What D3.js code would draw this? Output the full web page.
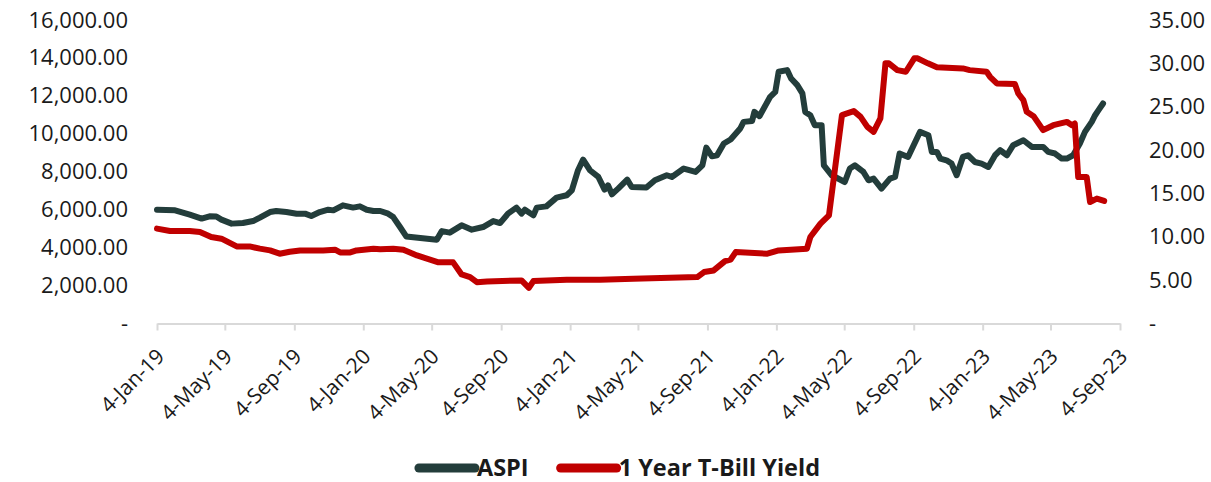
<!DOCTYPE html>
<html>
<head>
<meta charset="utf-8">
<script src="https://cdn.jsdelivr.net/npm/d3@7/dist/d3.min.js"></script>
<style>
  html, body { margin: 0; padding: 0; background: #ffffff; }
  svg { display: block; }
  text { font-family: "Open Sans", "Noto Sans", sans-serif; fill: #1a1a1a; }
</style>
</head>
<body>
<svg id="chart" width="1211" height="482"></svg>
<script>
// ---- Data ----
const aspiDates = [
  "2019-01-04","2019-02-05","2019-03-03","2019-03-24","2019-04-07","2019-04-19","2019-04-28","2019-05-16",
  "2019-06-05","2019-06-23","2019-07-05","2019-07-23","2019-08-03","2019-08-21","2019-09-08","2019-09-23",
  "2019-10-04","2019-10-19","2019-11-03","2019-11-12","2019-11-29","2019-12-17","2019-12-29","2020-01-10",
  "2020-01-22","2020-02-03","2020-02-17","2020-02-26","2020-03-09","2020-03-20","2020-05-13","2020-05-22",
  "2020-06-05","2020-06-26","2020-07-14","2020-08-03","2020-08-21","2020-09-02","2020-09-16","2020-10-01",
  "2020-10-10","2020-10-16","2020-10-31","2020-11-06","2020-11-23","2020-12-11","2020-12-29","2021-01-07",
  "2021-01-18","2021-01-27","2021-02-08","2021-02-23","2021-03-06","2021-03-12","2021-03-19","2021-03-30",
  "2021-04-15","2021-04-23","2021-05-19","2021-06-03","2021-06-24","2021-07-03","2021-07-24","2021-08-14",
  "2021-08-26","2021-09-02","2021-09-12","2021-09-21","2021-10-03","2021-10-15","2021-11-01","2021-11-07",
  "2021-11-22","2021-11-26","2021-12-05","2021-12-24","2022-01-02","2022-01-08","2022-01-23","2022-01-30",
  "2022-02-10","2022-02-19","2022-02-24","2022-03-05","2022-03-13","2022-03-25","2022-03-29","2022-04-12",
  "2022-05-05","2022-05-14","2022-05-23","2022-06-07","2022-06-16","2022-06-25","2022-07-09","2022-07-24",
  "2022-08-02","2022-08-10","2022-08-25","2022-09-15","2022-09-30","2022-10-06","2022-10-15","2022-10-21",
  "2022-11-01","2022-11-10","2022-11-19","2022-11-30","2022-12-09","2022-12-21","2023-01-02","2023-01-14",
  "2023-01-26","2023-02-04","2023-02-16","2023-02-27","2023-03-17","2023-04-01","2023-04-21","2023-04-30",
  "2023-05-12","2023-05-24","2023-06-02","2023-06-13","2023-06-25","2023-07-04","2023-07-16","2023-07-22",
  "2023-07-28","2023-08-05"
];
const aspiValues = [
  6000,5970,5740,5530,5650,5640,5475,5265,
  5300,5400,5580,5875,5930,5875,5790,5790,
  5665,5875,6000,5965,6230,6110,6175,6000,
  5930,5930,5790,5610,5085,4590,4410,4870,
  4790,5175,4945,5085,5400,5295,5790,6110,
  5790,6000,5700,6110,6175,6635,6760,7020,
  8080,8640,8080,7725,7060,7285,6810,7110,
  7585,7195,7165,7550,7815,7725,8170,7990,
  8340,9275,8815,8870,9490,9700,10280,10630,
  10680,11155,10930,11950,12210,13270,13360,12920,
  12565,12130,11155,10980,10455,10455,8340,7815,
  7460,8170,8340,7990,7550,7640,7110,7640,
  7725,8960,8780,10100,9925,9045,9045,8695,
  8605,8430,7815,8780,8870,8515,8430,8250,
  8870,9135,8870,9400,9660,9310,9310,9045,
  8960,8695,8695,8870,9490,10100,10630,10980,
  11245,11600
];

const yieldDates = [
  "2019-01-04","2019-01-27","2019-03-03","2019-03-21","2019-04-10","2019-04-28","2019-05-25","2019-06-17",
  "2019-07-05","2019-07-23","2019-08-09","2019-08-27","2019-09-14","2019-10-25","2019-11-15","2019-11-24",
  "2019-12-12","2019-12-23","2020-01-22","2020-02-03","2020-02-26","2020-03-15","2020-04-08","2020-05-16",
  "2020-06-11","2020-06-26","2020-07-11","2020-07-23","2020-08-10","2020-10-10","2020-10-23","2020-10-31",
  "2020-12-29","2021-02-26","2021-04-26","2021-08-17","2021-08-29","2021-09-15","2021-10-05","2021-10-15",
  "2021-10-24","2021-12-19","2022-01-08","2022-02-27","2022-03-05","2022-03-23","2022-04-07","2022-04-30",
  "2022-05-09","2022-05-21","2022-06-02","2022-06-14","2022-06-25","2022-07-07","2022-07-16","2022-07-22",
  "2022-08-06","2022-08-21","2022-09-05","2022-09-11","2022-09-29","2022-10-15","2022-11-30","2022-12-12",
  "2023-01-11","2023-01-17","2023-01-29","2023-03-02","2023-03-08","2023-03-17","2023-03-23","2023-04-04",
  "2023-04-21","2023-05-09","2023-06-02","2023-06-11","2023-06-16","2023-06-22","2023-07-07","2023-07-13",
  "2023-07-25","2023-08-07"
];
const yieldValues = [
  10.94,10.66,10.66,10.55,9.97,9.78,8.89,8.89,
  8.63,8.43,8.05,8.28,8.43,8.43,8.51,8.20,
  8.20,8.43,8.63,8.55,8.63,8.51,7.85,7.05,
  7.05,5.66,5.35,4.77,4.85,4.97,4.12,4.89,
  5.05,5.05,5.16,5.35,5.93,6.12,7.20,7.36,
  8.24,8.05,8.43,8.63,9.97,11.52,12.48,24.03,
  24.22,24.49,23.83,22.68,22.10,23.65,30.00,30.00,
  29.22,29.03,30.58,30.58,30.00,29.54,29.42,29.22,
  29.03,28.45,27.69,27.61,26.53,25.76,24.41,23.91,
  22.30,22.87,23.25,22.87,23.07,16.90,16.90,14.01,
  14.40,14.13
];

const xTickDates = ["2019-01-04","2019-05-04","2019-09-04","2020-01-04","2020-05-04","2020-09-04",
  "2021-01-04","2021-05-04","2021-09-04","2022-01-04","2022-05-04","2022-09-04","2023-01-04",
  "2023-05-04","2023-09-04"];
const leftTicks = [0,2000,4000,6000,8000,10000,12000,14000,16000];
const rightTicks = [0,5,10,15,20,25,30,35];
const seriesNames = ["ASPI","1 Year T-Bill Yield"];
const seriesColors = ["#233d3b","#c00000"];

// ---- Chart ----
const parse = d3.timeParse("%Y-%m-%d");
const svg = d3.select("#chart");
const m = {left:157, right:1120, top:20, bottom:323.5};

const x = d3.scaleTime()
  .domain([parse(xTickDates[0]), parse(xTickDates[xTickDates.length-1])])
  .range([m.left, m.right]);
const yL = d3.scaleLinear().domain([0,16000]).range([m.bottom, m.top]);
const yR = d3.scaleLinear().domain([0,35]).range([m.bottom, m.top]);

const fmtL = v => v === 0 ? "-" : d3.format(",.2f")(v);
const fmtR = v => v === 0 ? "-" : d3.format(".2f")(v);
const fmtX = d3.timeFormat("%-d-%b-%y");

// left axis
const gL = svg.append("g").attr("transform", `translate(${m.left},0)`)
  .call(d3.axisLeft(yL).tickValues(leftTicks).tickFormat(fmtL).tickSize(0).tickPadding(29));
gL.select(".domain").remove();
gL.selectAll("text").style("font-size","22px").attr("fill","#1a1a1a")
  .attr("font-family","Open Sans, Noto Sans, sans-serif");

// right axis
const gR = svg.append("g").attr("transform", `translate(${m.right},0)`)
  .call(d3.axisRight(yR).tickValues(rightTicks).tickFormat(fmtR).tickSize(0).tickPadding(29));
gR.select(".domain").remove();
gR.selectAll("text").style("font-size","22px").attr("fill","#1a1a1a")
  .attr("font-family","Open Sans, Noto Sans, sans-serif");

// x axis
const gX = svg.append("g").attr("transform", `translate(0,${m.bottom})`)
  .call(d3.axisBottom(x).tickValues(xTickDates.map(parse)).tickFormat(fmtX).tickSize(7).tickSizeOuter(0));
gX.select(".domain").attr("stroke","#d9d9d9").attr("stroke-width",2);
gX.selectAll(".tick line").attr("stroke","#d9d9d9").attr("stroke-width",2);
gX.selectAll("text")
  .style("font-size","21px").attr("fill","#1a1a1a")
  .attr("font-family","Open Sans, Noto Sans, sans-serif")
  .attr("text-anchor","end")
  .attr("dy","0.35em")
  .attr("y",0)
  .attr("transform","translate(3,29) rotate(-45)");

// lines
const aspiData = aspiDates.map((d,i)=>({d:parse(d), v:aspiValues[i]}));
const yieldData = yieldDates.map((d,i)=>({d:parse(d), v:yieldValues[i]}));

svg.append("path").datum(aspiData)
  .attr("fill","none").attr("stroke",seriesColors[0]).attr("stroke-width",6)
  .attr("stroke-linejoin","round").attr("stroke-linecap","round")
  .attr("d", d3.line().x(p=>x(p.d)).y(p=>yL(p.v)));

svg.append("path").datum(yieldData)
  .attr("fill","none").attr("stroke",seriesColors[1]).attr("stroke-width",6)
  .attr("stroke-linejoin","round").attr("stroke-linecap","round")
  .attr("d", d3.line().x(p=>x(p.d)).y(p=>yR(p.v)));

// legend
const lg = svg.append("g");
const legY = 468;
const swW = 56, gap = 2, between = 32;
const items = seriesNames.map((n,i)=>{
  const g = lg.append("g");
  g.append("line").attr("x1",0).attr("x2",swW).attr("y1",0).attr("y2",0)
    .attr("stroke",seriesColors[i]).attr("stroke-width",9).attr("stroke-linecap","round");
  const t = g.append("text").attr("x",swW+gap).attr("y",0).attr("dy","0.36em")
    .style("font-size","23.5px").style("font-weight","bold").text(n);
  return {g, w: swW+gap+t.node().getComputedTextLength()};
});
const total = items.reduce((s,it)=>s+it.w,0) + between;
let cx = 619.5 - total/2;
items.forEach(it=>{ it.g.attr("transform",`translate(${cx},${legY})`); cx += it.w + between; });
</script>
</body>
</html>
